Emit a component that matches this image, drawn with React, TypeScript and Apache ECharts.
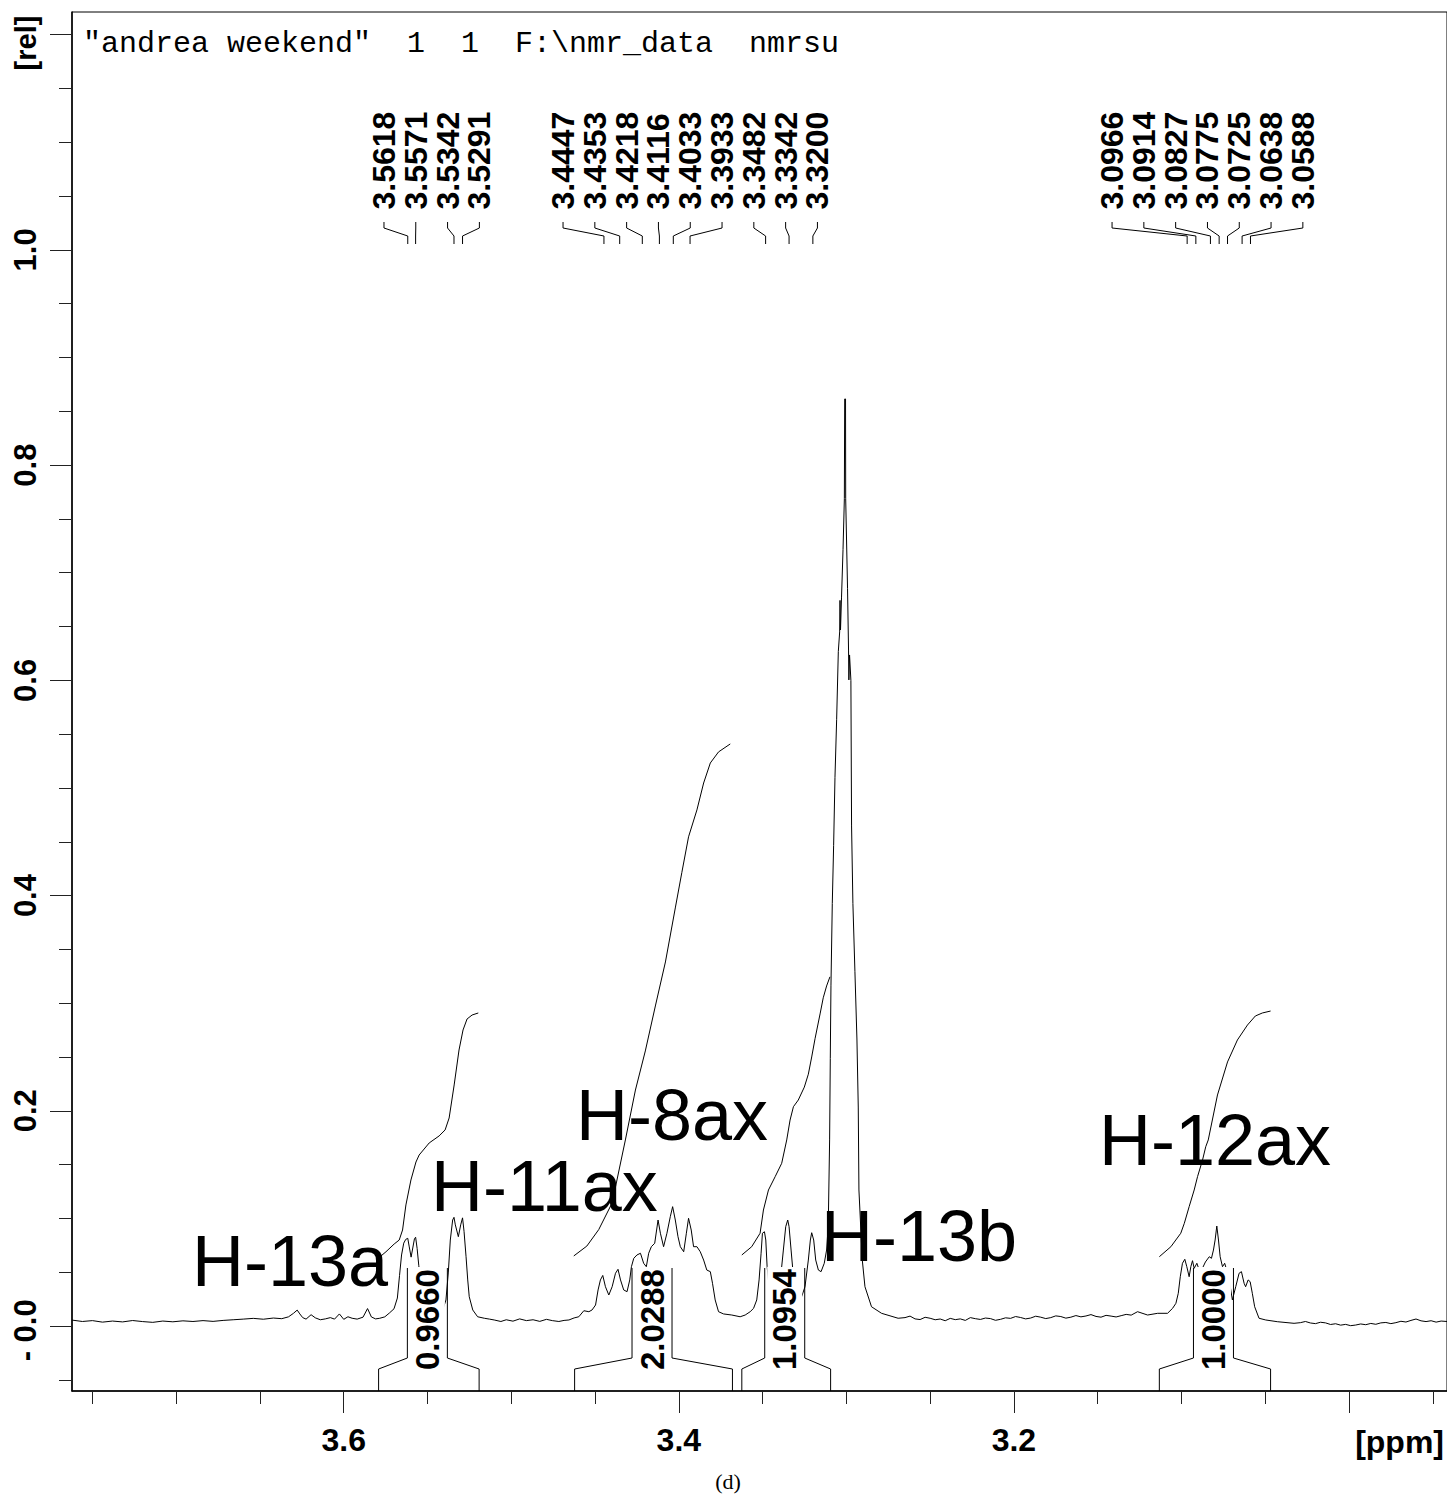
import React, { useEffect, useRef } from "react";
import * as echarts from "echarts";

// ---------------- data (ppm, rel. intensity) ----------------
const baselineLeft: number[][] = [
  [3.7622, 0.0055], [3.756, 0.0042], [3.75, 0.005], [3.744, 0.0036], [3.738, 0.0046], [3.732, 0.0038],
  [3.726, 0.0051], [3.72, 0.0041], [3.714, 0.0034], [3.708, 0.0046], [3.702, 0.0039], [3.696, 0.0048],
  [3.69, 0.0042], [3.684, 0.005], [3.678, 0.0043], [3.672, 0.0052], [3.666, 0.0058], [3.66, 0.0064],
  [3.654, 0.0071], [3.648, 0.0063], [3.642, 0.0074], [3.637, 0.0068], [3.633, 0.0085], [3.63, 0.0118],
  [3.6278, 0.0148], [3.6262, 0.0112], [3.6245, 0.0078], [3.6225, 0.0064], [3.6195, 0.0105], [3.617, 0.0076],
  [3.614, 0.0058], [3.611, 0.0066], [3.608, 0.0078], [3.6055, 0.0064], [3.6026, 0.0112], [3.6, 0.0062],
  [3.5975, 0.0086], [3.595, 0.0072], [3.592, 0.0064], [3.5885, 0.0082], [3.5858, 0.0162], [3.5835, 0.0084],
  [3.581, 0.0066], [3.5785, 0.0072], [3.5755, 0.0085],
];
const h13aH11axRegion: number[][] = [
  [3.5728, 0.012], [3.57, 0.016], [3.568, 0.026], [3.5667, 0.047], [3.5655, 0.066], [3.5642, 0.077],
  [3.563, 0.0805], [3.5618, 0.0815], [3.5609, 0.0735], [3.5598, 0.064], [3.5588, 0.0725], [3.5578, 0.081],
  [3.5571, 0.0825], [3.5562, 0.072], [3.5552, 0.056], [3.5543, 0.043], [3.5528, 0.0195], [3.5509, 0.0086],
  [3.5479, 0.0072], [3.5459, 0.0085], [3.5439, 0.0102], [3.5409, 0.0149], [3.539, 0.0242], [3.5376, 0.0493],
  [3.5364, 0.0799], [3.535, 0.0985], [3.5342, 0.101], [3.5334, 0.094], [3.5316, 0.083], [3.5302, 0.094],
  [3.5291, 0.1005], [3.5282, 0.088], [3.527, 0.0644], [3.526, 0.0428], [3.5251, 0.0272], [3.523, 0.0149],
  [3.5201, 0.0086], [3.5161, 0.0072], [3.513, 0.0064], [3.5102, 0.0056], [3.5062, 0.0042],
];
const baselineMid1: number[][] = [
  [3.503, 0.0058], [3.499, 0.0045], [3.495, 0.0066], [3.491, 0.005], [3.487, 0.0058], [3.483, 0.0043],
  [3.479, 0.0062], [3.4755, 0.005], [3.4716, 0.0042], [3.4685, 0.0052], [3.4656, 0.0056], [3.4625, 0.0075],
  [3.4597, 0.0086],
];
const h8axRegion: number[][] = [
  [3.4567, 0.0142], [3.4537, 0.0133], [3.4518, 0.0149], [3.4497, 0.0195], [3.4482, 0.0335], [3.4468, 0.0428],
  [3.4454, 0.047], [3.4438, 0.0365], [3.4418, 0.0288], [3.4398, 0.0365], [3.4378, 0.049], [3.4363, 0.0527],
  [3.4348, 0.0428], [3.4329, 0.0335], [3.4309, 0.0319], [3.4293, 0.0428], [3.4283, 0.0551], [3.4269, 0.0629],
  [3.425, 0.066], [3.4229, 0.0676], [3.421, 0.0583], [3.4194, 0.0551], [3.418, 0.0676], [3.4164, 0.0737],
  [3.4144, 0.0769], [3.4124, 0.0985], [3.411, 0.0862], [3.4091, 0.0737], [3.4071, 0.0862], [3.4051, 0.1016],
  [3.4037, 0.1109], [3.4021, 0.0985], [3.4005, 0.083], [3.3991, 0.0737], [3.3971, 0.069], [3.3955, 0.0862],
  [3.3942, 0.1001], [3.3926, 0.0892], [3.3912, 0.0737], [3.3892, 0.0737], [3.3872, 0.069], [3.3852, 0.0613],
  [3.3833, 0.052], [3.3812, 0.0505], [3.3799, 0.0397], [3.3783, 0.0242], [3.3763, 0.0133], [3.3733, 0.0112],
  [3.3684, 0.0102], [3.3634, 0.0086], [3.3604, 0.0102], [3.3574, 0.0133], [3.3554, 0.0164], [3.3535, 0.0242],
];
const h13bRegion: number[][] = [
  [3.3521, 0.0428], [3.3509, 0.0676], [3.3501, 0.0862], [3.3489, 0.0876], [3.3481, 0.0799], [3.3473, 0.0551],
  [3.3461, 0.0365], [3.3446, 0.0288], [3.3425, 0.0272], [3.3406, 0.0304], [3.339, 0.049], [3.3376, 0.0706],
  [3.3362, 0.0923], [3.335, 0.0985], [3.3342, 0.0923], [3.333, 0.0706], [3.3316, 0.0458], [3.3297, 0.0304],
  [3.3267, 0.0272], [3.3247, 0.0365], [3.3227, 0.0613], [3.3215, 0.0799], [3.3207, 0.0867], [3.3195, 0.0799],
  [3.3183, 0.0613], [3.3167, 0.052], [3.3151, 0.0505], [3.3132, 0.0583], [3.3118, 0.0706], [3.3108, 0.0939],
  [3.31, 0.1729], [3.3096, 0.2485], [3.3092, 0.3161], [3.3084, 0.3927], [3.3076, 0.4467], [3.3068, 0.5098],
  [3.3058, 0.5638], [3.3048, 0.6269], [3.304, 0.645], [3.3038, 0.6743], [3.3035, 0.6468], [3.3029, 0.6766],
  [3.302, 0.7215], [3.3012, 0.7688], [3.301, 0.8615], [3.3005, 0.8615], [3.3004, 0.7688], [3.2993, 0.6855],
  [3.2987, 0.6273], [3.2985, 0.6004], [3.2981, 0.6236], [3.2973, 0.5999], [3.2969, 0.4647], [3.2961, 0.3927],
  [3.2949, 0.3296], [3.2937, 0.2667], [3.2929, 0.2035], [3.2925, 0.1264], [3.2905, 0.0613], [3.2889, 0.0365],
  [3.285, 0.0179], [3.279, 0.0118], [3.2691, 0.0072],
];
const baselineMid2: number[][] = [
  [3.265, 0.0078], [3.262, 0.0092], [3.259, 0.0066], [3.256, 0.006], [3.253, 0.0081], [3.25, 0.0072],
  [3.247, 0.0058], [3.244, 0.0065], [3.241, 0.0049], [3.238, 0.0071], [3.235, 0.0059], [3.232, 0.0066],
  [3.229, 0.0052], [3.226, 0.0078], [3.223, 0.0068], [3.22, 0.0061], [3.217, 0.0074], [3.214, 0.0069],
  [3.211, 0.0053], [3.208, 0.0062], [3.205, 0.0076], [3.202, 0.0071], [3.199, 0.0088], [3.196, 0.0079],
  [3.193, 0.0066], [3.19, 0.0074], [3.187, 0.0091], [3.184, 0.0082], [3.181, 0.0069], [3.178, 0.0078],
  [3.175, 0.0094], [3.172, 0.0088], [3.169, 0.0073], [3.166, 0.0082], [3.163, 0.0097], [3.16, 0.0085],
  [3.157, 0.0093], [3.154, 0.0106], [3.151, 0.0089], [3.148, 0.0082], [3.145, 0.0099], [3.142, 0.0092],
  [3.139, 0.0084], [3.136, 0.0096], [3.133, 0.0108], [3.13, 0.0101],
];
const h12axRegion: number[][] = [
  [3.1262, 0.0133], [3.1202, 0.0102], [3.1142, 0.0118], [3.1083, 0.0118], [3.1053, 0.0164], [3.1033, 0.0211],
  [3.1019, 0.0304], [3.1007, 0.0458], [3.0994, 0.0583], [3.098, 0.062], [3.0968, 0.0551], [3.0954, 0.0458],
  [3.0944, 0.0551], [3.0934, 0.0607], [3.0924, 0.0536], [3.0908, 0.0583], [3.0894, 0.052], [3.0874, 0.0539],
  [3.0857, 0.0595], [3.0834, 0.0644], [3.0821, 0.0629], [3.0809, 0.0706], [3.0799, 0.0799], [3.0789, 0.0929],
  [3.0779, 0.0799], [3.0769, 0.0644], [3.0755, 0.0551], [3.0742, 0.0583], [3.073, 0.052], [3.0715, 0.0428],
  [3.0696, 0.0242], [3.0676, 0.0365], [3.0656, 0.049], [3.0642, 0.0505], [3.0626, 0.0397], [3.0617, 0.0365],
  [3.0602, 0.0428], [3.059, 0.0412], [3.0577, 0.0304], [3.0563, 0.0179], [3.0537, 0.0072], [3.0497, 0.0056],
  [3.0428, 0.004], [3.0328, 0.0025],
];
const baselineRight: number[][] = [
  [3.029, 0.0031], [3.026, 0.0042], [3.023, 0.0028], [3.02, 0.0022], [3.017, 0.0035], [3.014, 0.0029],
  [3.011, 0.0014], [3.008, 0.0021], [3.005, 0.0008], [3.002, 0.0015], [2.999, 0.0003], [2.996, 0.0009],
  [2.993, 0.0019], [2.99, 0.0012], [2.987, 0.0024], [2.984, 0.0016], [2.981, 0.0029], [2.978, 0.0033],
  [2.975, 0.0022], [2.972, 0.0031], [2.969, 0.0044], [2.966, 0.0037], [2.963, 0.0052], [2.96, 0.0065],
  [2.957, 0.0048], [2.954, 0.0041], [2.951, 0.0049], [2.948, 0.0036], [2.945, 0.0046], [2.9415, 0.0042],
];

const integral1: number[][] = [
  [3.5792, 0.0632], [3.5748, 0.069], [3.5699, 0.0762], [3.5669, 0.0799], [3.5649, 0.0892], [3.5629, 0.1125],
  [3.5599, 0.1357], [3.5569, 0.1524], [3.555, 0.1589], [3.549, 0.1701], [3.5431, 0.1766], [3.5395, 0.1822],
  [3.5371, 0.1933], [3.5341, 0.224], [3.5312, 0.2565], [3.5288, 0.2751], [3.5264, 0.2853], [3.5234, 0.289],
  [3.5197, 0.2909],
];
const integral2: number[][] = [
  [3.4627, 0.0651], [3.4549, 0.0743], [3.4478, 0.0896], [3.4398, 0.1144], [3.4319, 0.1729], [3.4259, 0.2193],
  [3.42, 0.2556], [3.414, 0.2974], [3.408, 0.3383], [3.4021, 0.3885], [3.3982, 0.4215], [3.3942, 0.4546],
  [3.3892, 0.4796], [3.3852, 0.5046], [3.3812, 0.5232], [3.3763, 0.5335], [3.3693, 0.5409],
];
const integral3: number[][] = [
  [3.3624, 0.066], [3.3565, 0.0737], [3.3515, 0.0862], [3.3495, 0.1078], [3.3465, 0.1264], [3.3425, 0.1388],
  [3.3386, 0.1512], [3.3356, 0.1729], [3.3336, 0.1914], [3.3316, 0.2038], [3.3287, 0.21], [3.3251, 0.222],
  [3.3227, 0.234], [3.3207, 0.25], [3.3187, 0.267], [3.3157, 0.29], [3.3138, 0.305], [3.3118, 0.316],
  [3.3098, 0.3245],
];
const integral4: number[][] = [
  [3.1132, 0.0644], [3.1063, 0.0737], [3.1004, 0.0862], [3.0983, 0.0954], [3.0954, 0.1109], [3.0924, 0.1264],
  [3.0904, 0.1388], [3.0874, 0.1543], [3.0855, 0.1666], [3.084, 0.1729], [3.0785, 0.2147], [3.0725, 0.2454],
  [3.0666, 0.2658], [3.0606, 0.2797], [3.0559, 0.2881], [3.0517, 0.2909], [3.0468, 0.2927],
];

const integralRanges: number[][] = [
  [3.5792, 3.5192], [3.4622, 3.368], [3.3624, 3.3094], [3.1132, 3.0468],
];
const integralValues: string[] = ["0.9660", "2.0288", "1.0954", "1.0000"];

const peakLabels: number[] = [
  3.5618, 3.5571, 3.5342, 3.5291,
  3.4447, 3.4353, 3.4218, 3.4116, 3.4033, 3.3933, 3.3482, 3.3342, 3.32,
  3.0966, 3.0914, 3.0827, 3.0775, 3.0725, 3.0638, 3.0588,
];

const assignments: string[] = ["H-13a", "H-11ax", "H-8ax", "H-13b", "H-12ax"];
const titleText = '"andrea weekend"\u00A0\u00A01\u00A0\u00A01\u00A0\u00A0F:\\nmr_data\u00A0\u00A0nmrsu';

const xMajorTicks: number[] = [3.6, 3.4, 3.2, 3.0];
const xTickLabels: number[] = [3.6, 3.4, 3.2];
const xMinorTicks: number[] = [2.95, 3.05, 3.1, 3.15, 3.25, 3.3, 3.35, 3.45, 3.5, 3.55, 3.65, 3.7, 3.75];
const yMajorTicks: number[] = [0, 0.2, 0.4, 0.6, 0.8, 1.0, 1.2];
const yTickLabels: number[] = [0, 0.2, 0.4, 0.6, 0.8, 1.0];
const yMinorTicks: number[] = [-0.05, 0.05, 0.1, 0.15, 0.25, 0.3, 0.35, 0.45, 0.5, 0.55, 0.65, 0.7, 0.75,
  0.85, 0.9, 0.95, 1.05, 1.1, 1.15];

// ---------------- layout / style ----------------
const X_MIN = 2.9415;
const X_MAX = 3.7622;
const Y_MIN = -0.0604;
const Y_MAX = 1.2211;
const FONT_SANS = "'Liberation Sans', Arial, sans-serif";
const FONT_MONO = "'Liberation Mono', 'Courier New', monospace";
const FONT_SERIF = "'Liberation Serif', 'Times New Roman', serif";

const assignmentPos: number[][] = [
  [192, 1261], [431, 1186], [576, 1115], [821, 1236], [1099, 1140],
];
const clusterOffsets = [-3.3, -4.9, -11.5];

function buildGraphics(chart: any) {
  const px = (p: number) => chart.convertToPixel({ xAxisIndex: 0 }, p) as number;
  const py = (v: number) => chart.convertToPixel({ yAxisIndex: 0 }, v) as number;
  const els: any[] = [];
  const yAxisPx = py(Y_MIN);

  els.push({
    type: "text", x: 83, y: 44, z: 10,
    style: { text: titleText, fontFamily: FONT_MONO, fontSize: 30, fill: "#000", textAlign: "left", verticalAlign: "middle", textVerticalAlign: "middle" },
  });
  els.push({
    type: "text", x: 26, y: 43, rotation: Math.PI / 2, z: 10,
    style: { text: "[rel]", fontFamily: FONT_SANS, fontWeight: "bold", fontSize: 29, fill: "#000", textAlign: "center", verticalAlign: "middle", textVerticalAlign: "middle" },
  });
  els.push({
    type: "text", x: 1444, y: 1442, z: 10,
    style: { text: "[ppm]", fontFamily: FONT_SANS, fontWeight: "bold", fontSize: 32, fill: "#000", textAlign: "right", verticalAlign: "middle", textVerticalAlign: "middle" },
  });
  els.push({
    type: "text", x: 728, y: 1481, z: 10,
    style: { text: "(d)", fontFamily: FONT_SERIF, fontSize: 22, fill: "#000", textAlign: "center", verticalAlign: "middle", textVerticalAlign: "middle" },
  });

  assignments.forEach((t, i) => {
    els.push({
      type: "text", x: assignmentPos[i][0], y: assignmentPos[i][1], z: 10,
      style: { text: t, fontFamily: FONT_SANS, fontSize: 72, fill: "#000", textAlign: "left", verticalAlign: "middle", textVerticalAlign: "middle" },
    });
  });

  // peak labels: spread into clusters with fixed spacing
  const s = 31.8;
  const peaks = peakLabels.map((p) => ({ p, x: px(p) })).sort((a, b) => a.x - b.x);
  let clusters: { items: { p: number; x: number }[] }[] = peaks.map((q) => ({ items: [q] }));
  const center = (c: { items: { x: number }[] }) => c.items.reduce((a, b) => a + b.x, 0) / c.items.length;
  let merged = true;
  while (merged) {
    merged = false;
    for (let i = 0; i < clusters.length - 1; i++) {
      const a = clusters[i];
      const b = clusters[i + 1];
      const aRight = center(a) + ((a.items.length - 1) / 2) * s;
      const bLeft = center(b) - ((b.items.length - 1) / 2) * s;
      if (bLeft - aRight < s) {
        clusters.splice(i, 2, { items: [...a.items, ...b.items] });
        merged = true;
        break;
      }
    }
  }
  clusters.forEach((c, ci) => {
    const n = c.items.length;
    const cx = center(c) + (clusterOffsets[ci] || 0);
    c.items.forEach((q, i) => {
      const lx = cx + (i - (n - 1) / 2) * s;
      els.push({
        type: "text", x: lx, y: 209.5, rotation: Math.PI / 2, z: 10,
        style: { text: q.p.toFixed(4), fontFamily: FONT_SANS, fontWeight: "bold", fontSize: 32, fill: "#000", textAlign: "left", verticalAlign: "middle", textVerticalAlign: "middle" },
      });
      els.push({
        type: "polyline", z: 10, silent: true,
        shape: { points: [[lx, 222], [lx, 228], [q.x, 236], [q.x, 244]] },
        style: { stroke: "#000", lineWidth: 1, fill: null },
      });
    });
  });

  // integral brackets and values (labels sit on an opaque box, lines on top)
  integralRanges.forEach((r, i) => {
    const x1 = px(r[0]);
    const x2 = px(r[1]);
    const xc = (x1 + x2) / 2 - 1.5;
    const yb = yAxisPx;
    els.push({
      type: "text", x: xc, y: 1372, rotation: Math.PI / 2, z: 9,
      style: {
        text: integralValues[i], fontFamily: FONT_SANS, fontWeight: "bold", fontSize: 33, fill: "#000",
        textAlign: "left", verticalAlign: "middle", textVerticalAlign: "middle",
        backgroundColor: "#fff", padding: [1, 2, 1, 2],
      },
    });
    els.push({
      type: "polyline", z: 11, silent: true,
      shape: { points: [[x1, yb], [x1, yb - 22], [xc - 20, yb - 33], [xc - 20, 1268]] },
      style: { stroke: "#000", lineWidth: 1, fill: null },
    });
    els.push({
      type: "polyline", z: 11, silent: true,
      shape: { points: [[x2, yb], [x2, yb - 22], [xc + 20, yb - 33], [xc + 20, 1268]] },
      style: { stroke: "#000", lineWidth: 1, fill: null },
    });
  });
  return els;
}

export default function App() {
  const ref = useRef<HTMLDivElement>(null);
  useEffect(() => {
    if (!ref.current) return;
    const chart = echarts.init(ref.current, null, { renderer: "svg" });
    const spectrum = [
      ...baselineLeft, ...h13aH11axRegion, ...baselineMid1, ...h8axRegion,
      ...h13bRegion, ...baselineMid2, ...h12axRegion, ...baselineRight,
    ];
    const lineSeries = (data: number[][], z: number) => ({
      type: "line", data, symbol: "none", showSymbol: false, silent: true, z,
      lineStyle: { color: "#000", width: 1 }, xAxisIndex: 0, yAxisIndex: 0, animation: false,
    });
    chart.setOption({
      animation: false,
      backgroundColor: "#fff",
      grid: { left: 72, top: 12, right: -3, bottom: 107, show: true, borderColor: "#000", borderWidth: 1, containLabel: false },
      xAxis: [
        {
          type: "value", inverse: true, min: X_MIN, max: X_MAX, position: "bottom",
          axisLine: { show: true, onZero: false, lineStyle: { color: "#000", width: 1.5 } },
          splitLine: { show: false },
          axisTick: { show: true, length: 22, customValues: xMajorTicks, lineStyle: { color: "#222", width: 1 } },
          axisLabel: {
            show: true, customValues: xTickLabels, margin: 33, color: "#000",
            fontFamily: FONT_SANS, fontWeight: "bold", fontSize: 32,
            formatter: (v: number) => Number(v).toFixed(1),
          },
        },
        {
          type: "value", inverse: true, min: X_MIN, max: X_MAX, position: "bottom",
          axisLine: { show: false, onZero: false }, splitLine: { show: false }, axisLabel: { show: false },
          axisTick: { show: true, length: 13, customValues: xMinorTicks, lineStyle: { color: "#222", width: 1 } },
        },
      ],
      yAxis: [
        {
          type: "value", min: Y_MIN, max: Y_MAX, position: "left",
          axisLine: { show: true, onZero: false, lineStyle: { color: "#000", width: 1.5 } },
          splitLine: { show: false },
          axisTick: { show: true, length: 22, customValues: yMajorTicks, lineStyle: { color: "#222", width: 1 } },
          axisLabel: {
            show: true, customValues: yTickLabels, rotate: 90, margin: 31, color: "#000",
            fontFamily: FONT_SANS, fontWeight: "bold", fontSize: 31,
            formatter: (v: number) => (Math.abs(v) < 1e-9 ? "- 0.0\u00A0" : Number(v).toFixed(1)),
          },
        },
        {
          type: "value", min: Y_MIN, max: Y_MAX, position: "left",
          axisLine: { show: false, onZero: false }, splitLine: { show: false }, axisLabel: { show: false },
          axisTick: { show: true, length: 13, customValues: yMinorTicks, lineStyle: { color: "#222", width: 1 } },
        },
      ],
      series: [
        lineSeries(spectrum, 3),
        lineSeries(integral1, 2),
        lineSeries(integral2, 2),
        lineSeries(integral3, 2),
        lineSeries(integral4, 2),
      ],
    });
    chart.setOption({ graphic: buildGraphics(chart) });
    return () => chart.dispose();
  }, []);
  return (
    <div
      ref={ref}
      style={{ position: "absolute", left: 0, top: 0, width: 1447, height: 1498, background: "#fff" }}
    />
  );
}
